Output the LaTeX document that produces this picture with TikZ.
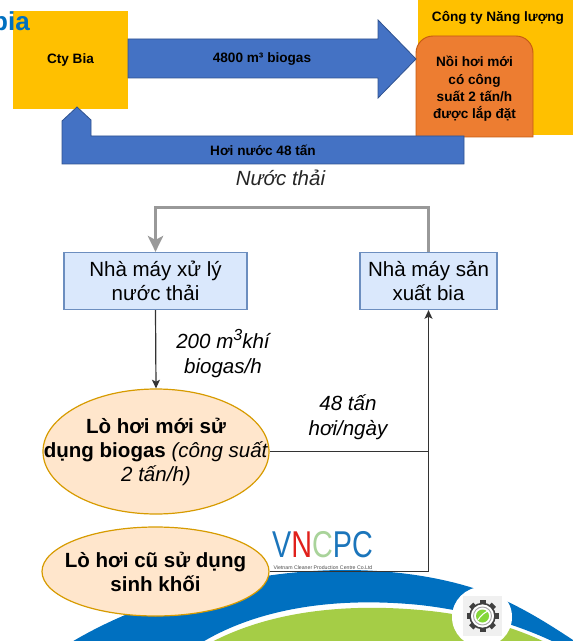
\documentclass[tikz,border=0pt]{standalone}
\usepackage{fontspec}
\setmainfont{Liberation Sans}
\usetikzlibrary{arrows.meta,shapes.geometric}

\definecolor{ctyyellow}{HTML}{FFC000}
\definecolor{flowblue}{HTML}{4472C4}
\definecolor{flowblueedge}{HTML}{2F528F}
\definecolor{boilerorange}{HTML}{ED7D31}
\definecolor{boileredge}{HTML}{C55A11}
\definecolor{plantfill}{HTML}{DAE8FC}
\definecolor{plantedge}{HTML}{6C8EBF}
\definecolor{ovalfill}{HTML}{FFE6CC}
\definecolor{ovaledge}{HTML}{D79B00}
\definecolor{titleblue}{HTML}{0070C0}
\definecolor{swooshblue}{HTML}{0070C0}
\definecolor{swooshgreen}{HTML}{A5CD46}
\definecolor{pipegray}{HTML}{999999}
\definecolor{logored}{HTML}{E0201B}
\definecolor{logoglobe}{HTML}{A9D39A}
\definecolor{logoblue}{HTML}{1B75BB}

\tikzset{
  bigtext/.style={font=\fontsize{15.4pt}{18pt}\selectfont, align=center, inner sep=0pt},
  smallbold/.style={font=\fontsize{10.2pt}{13pt}\selectfont\bfseries, align=center, inner sep=0pt},
  plantbox/.style={draw=plantedge, fill=plantfill, line width=0.9pt, inner sep=0pt,
    minimum height=42.75pt, bigtext},
  oval/.style={ellipse, draw=ovaledge, fill=ovalfill, line width=0.9pt, inner sep=0pt},
  bigarrow/.style={fill=flowblue, draw=flowblueedge, line width=0.6pt},
  pipe/.style={draw=pipegray, line width=2.25pt,
    -{Stealth[length=12pt,width=11.5pt,inset=3pt]}},
  flowline/.style={draw=black!80, line width=0.9pt},
  flowarrow/.style={flowline, -{Stealth[length=6.5pt,width=6pt,inset=1.5pt]}},
}

\begin{document}
\begin{tikzpicture}[x=0.75pt, y=-0.75pt]
\useasboundingbox (0,0) rectangle (573,641);
\clip (0,0) rectangle (573,641);

% ---------- background swoosh at the foot of the slide ----------
\fill[swooshblue] (62,648) .. controls (140,598) and (250,570) .. (345,570)
  .. controls (420,570) and (470,586) .. (490,594)
  .. controls (525,608) and (555,628) .. (585,648) -- (566,648)
  .. controls (532,630) and (482,612) .. (420,605)
  .. controls (330,596) and (250,610) .. (193,648) -- cycle;
\fill[swooshgreen] (201,648) .. controls (255,616) and (330,602) .. (420,610)
  .. controls (480,615) and (528,632) .. (556,648) -- cycle;
\fill[white] (482,617) circle[radius=30];
% gear badge
\fill[gray!12] (463,596) rectangle (502,636);
\foreach \a in {0,45,...,315}
  \fill[black!75, rotate around={\a:(482.5,616)}] (479.5,600) rectangle (485.5,606);
\draw[black!75, line width=1.2pt, fill=white] (482.5,616) circle[radius=12.5];
\draw[gray!70, line width=0.7pt] (482.5,616) circle[radius=9];
\fill[swooshgreen!80!green] (482.5,616) circle[radius=6.5];
\draw[white, line width=0.8pt] (478,620) .. controls (481,615) and (484,613) .. (488,611);

% ---------- top: exchange between the brewery and the energy company ----------
\node[fill=ctyyellow, minimum width=86.25pt, minimum height=73.5pt, inner sep=0pt]
  (ctybia) at (70.5,60) {};
\node[smallbold] (ctybialabel) at (ctybia) {Cty Bia};

\node[anchor=base east, font=\fontsize{19.5pt}{20pt}\selectfont\bfseries,
  text=titleblue, inner sep=0pt] (title) at (30,31) {bia};

\node[fill=ctyyellow, minimum width=121.5pt, minimum height=105pt, inner sep=0pt]
  (energyco) at (499,65) {};
\node[smallbold] (energylabel) at (498,18) {Công ty Năng lượng};

\filldraw[fill=boilerorange, draw=boileredge, line width=0.7pt]
  (416,137) -- (416,53) .. controls (416,43.6) and (423.6,36) .. (433,36)
  -- (516,36) .. controls (525.4,36) and (533,43.6) .. (533,53) -- (533,137) -- cycle;
\node[smallbold] (noihoi) at (474.5,89)
  {Nồi hơi mới\\có công\\suất 2 tấn/h\\được lắp đặt};

% biogas to the energy company
\filldraw[bigarrow] (128,39) -- (378,39) -- (378,20) -- (416,59) -- (378,98)
  -- (378,78) -- (128,78) -- cycle;
\node[smallbold] (biogaslabel) at (262,59) {4800 m³ biogas};

% steam back to the brewery
\filldraw[bigarrow] (62,164) -- (62,121) -- (77,107) -- (91,120) -- (91,136)
  -- (464,136) -- (464,164) -- cycle;
\node[smallbold] (steamlabel) at (263,150) {Hơi nước 48 tấn};

\node[bigtext, font=\fontsize{15.4pt}{18pt}\selectfont\itshape, text=black!85]
  (wastewater) at (280.5,178) {Nước thải};

% ---------- plants ----------
\node[plantbox, minimum width=137.25pt] (wwtp) at (155.5,281)
  {Nhà máy xử lý\\nước thải};
\node[plantbox, minimum width=102.75pt] (brewery) at (428.5,281)
  {Nhà máy sản\\xuất bia};

\coordinate (pipetop) at (0,208);
\draw[pipe] (brewery.north) -- (brewery.north |- pipetop) -| (wwtp.north);

% ---------- boilers ----------
\node[oval, minimum width=169.5pt, minimum height=93.75pt] (newboiler) at (156,451.5) {};
\node[bigtext] (newboilerlabel) at (newboiler)
  {\textbf{Lò hơi mới sử}\\\textbf{dụng biogas} \textit{(công suất}\\\textit{2 tấn/h)}};

\node[oval, minimum width=170.25pt, minimum height=66.75pt] (oldboiler) at (155.5,571.5) {};
\node[bigtext, font=\fontsize{15.4pt}{18pt}\selectfont\bfseries] (oldboilerlabel)
  at (oldboiler) {Lò hơi cũ sử dụng\\sinh khối};

\draw[flowarrow] (wwtp.south) -- (newboiler.north);
\node[bigtext, font=\fontsize{15.4pt}{18.75pt}\selectfont\itshape] (gaslabel) at (223,353.5)
  {200 m\raisebox{0.42em}{\fontsize{12pt}{12pt}\selectfont 3}khí\\biogas/h};

\draw[flowline] (newboiler.east) -- (newboiler.east -| brewery.south);
\draw[flowarrow] (oldboiler.east) -| (brewery.south);
\node[bigtext, font=\fontsize{15.4pt}{18.75pt}\selectfont\itshape] (steamday) at (348,417.5)
  {48 tấn\\hơi/ngày};

% ---------- VNCPC mark ----------
\node[inner sep=0pt, font=\fontsize{28pt}{28pt}\selectfont] (logo) at (322.5,544.5)
  {\scalebox{0.77}[1]{\textcolor{logoblue}{V}\textcolor{logored}{N}\textcolor{logoglobe}{C}\textcolor{logoblue}{PC}}};
\node[inner sep=0pt, font=\fontsize{3.9pt}{4pt}\selectfont, text=black!70] (logosub)
  at (323,567.5) {Vietnam Cleaner Production Centre Co.Ltd};
\end{tikzpicture}
\end{document}
